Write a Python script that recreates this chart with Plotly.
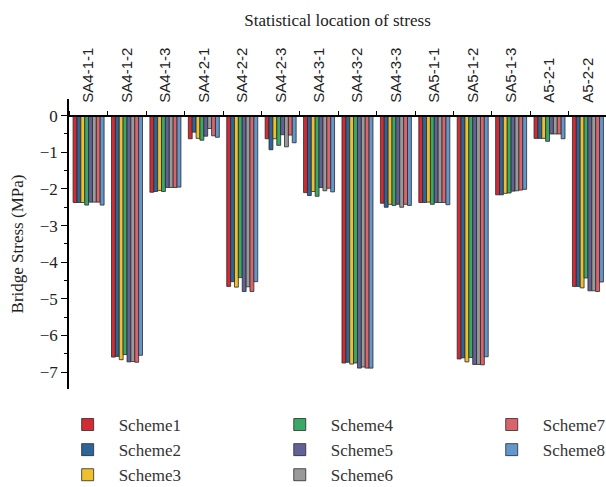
import plotly.graph_objects as go

categories = ["SA4-1-1", "SA4-1-2", "SA4-1-3", "SA4-2-1", "SA4-2-2", "SA4-2-3", "SA4-3-1",
              "SA4-3-2", "SA4-3-3", "SA5-1-1", "SA5-1-2", "SA5-1-3", "A5-2-1", "A5-2-2"]

scheme1 = [-2.37, -6.59, -2.09, -0.63, -4.66, -0.63, -2.10, -6.75, -2.39, -2.37, -6.64, -2.16, -0.62, -4.66]
scheme2 = [-2.37, -6.57, -2.07, -0.45, -4.53, -0.93, -2.18, -6.73, -2.50, -2.37, -6.61, -2.16, -0.62, -4.66]
scheme3 = [-2.37, -6.66, -2.04, -0.62, -4.68, -0.63, -2.07, -6.78, -2.42, -2.36, -6.72, -2.12, -0.62, -4.70]
scheme4 = [-2.44, -6.52, -2.07, -0.67, -4.42, -0.81, -2.20, -6.75, -2.45, -2.42, -6.60, -2.11, -0.70, -4.43]
scheme5 = [-2.36, -6.72, -1.96, -0.56, -4.80, -0.52, -1.96, -6.89, -2.42, -2.37, -6.79, -2.06, -0.50, -4.78]
scheme6 = [-2.36, -6.71, -1.96, -0.35, -4.67, -0.85, -2.05, -6.86, -2.50, -2.37, -6.79, -2.05, -0.50, -4.78]
scheme7 = [-2.36, -6.73, -1.96, -0.55, -4.80, -0.53, -1.98, -6.89, -2.42, -2.37, -6.80, -2.03, -0.50, -4.80]
scheme8 = [-2.44, -6.54, -1.95, -0.59, -4.53, -0.74, -2.08, -6.89, -2.45, -2.43, -6.58, -2.01, -0.63, -4.54]

series_names = ["Scheme1", "Scheme2", "Scheme3", "Scheme4", "Scheme5", "Scheme6", "Scheme7", "Scheme8"]
series_values = [scheme1, scheme2, scheme3, scheme4, scheme5, scheme6, scheme7, scheme8]
colors = ["#d22b33", "#2c6599", "#efc02e", "#3aa866", "#616198", "#9a9a9a", "#d9646b", "#6197cb"]
legend_ids = ["legend", "legend", "legend", "legend2", "legend2", "legend2", "legend3", "legend3"]

y_ticks = [0, -1, -2, -3, -4, -5, -6, -7]

SERIF = "Liberation Serif"
SANS = "Liberation Sans"

fig = go.Figure()
for name, vals, col, lg in zip(series_names, series_values, colors, legend_ids):
    fig.add_trace(go.Bar(
        name=name, x=categories, y=vals,
        marker=dict(color=col, line=dict(color="#2a2a2a", width=0.8)),
        legend=lg, legendgroup=name,
    ))

legend_common = dict(
    orientation="v", yanchor="top", y=-0.062,
    font=dict(family=SERIF, size=17, color="#333333"),
    itemwidth=52, tracegroupgap=0, bgcolor="rgba(0,0,0,0)",
    traceorder="grouped",
)

y_lo, y_hi = -7.46, 0.455
fig.update_layout(
    width=606, height=487,
    margin=dict(l=69, r=0, t=99, b=98, autoexpand=False),
    paper_bgcolor="white", plot_bgcolor="white",
    barmode="group", bargap=0.193, bargroupgap=0,
    showlegend=True,
    legend=dict(x=-0.023, **legend_common),
    legend2=dict(x=0.372, **legend_common),
    legend3=dict(x=0.7667, **legend_common),
    xaxis=dict(
        type="category", side="top", anchor="free",
        position=(0 - y_lo) / (y_hi - y_lo),
        range=[-0.51, 13.47],
        showline=True, linecolor="black", linewidth=2,
        ticks="outside", tickson="boundaries", ticklen=4, tickcolor="black", tickwidth=1,
        tickangle=-90, tickfont=dict(family=SANS, size=15, color="#222222"),
        ticklabelstandoff=9,
        showgrid=False, zeroline=False,
        title=dict(text="Statistical location of stress", font=dict(family=SERIF, size=17, color="#222222"), standoff=16),
    ),
    yaxis=dict(
        range=[y_lo, y_hi], tickvals=y_ticks,
        showline=True, linecolor="black", linewidth=1.5,
        ticks="outside", ticklen=6, tickcolor="black", tickwidth=1.2,
        minor=dict(dtick=0.5, ticks="outside", ticklen=3, tickcolor="black", tickwidth=1),
        tickfont=dict(family=SERIF, size=17, color="#222222"),
        showgrid=False, zeroline=False,
        title=dict(text="Bridge Stress (MPa)", font=dict(family=SERIF, size=17, color="#222222"), standoff=12),
    ),
)

fig.write_html("out.html")
